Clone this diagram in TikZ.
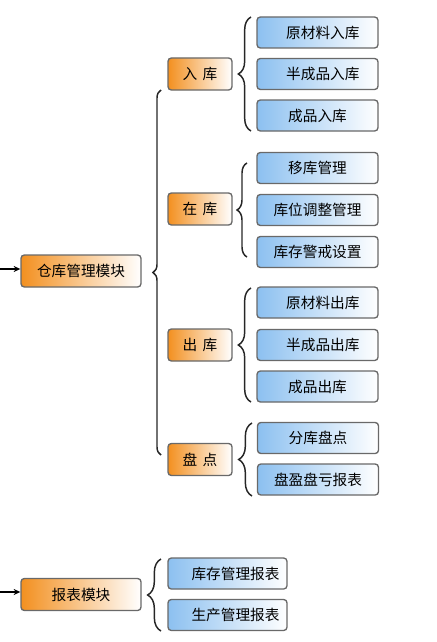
\documentclass[tikz,border=0pt]{standalone}
\usepackage{fontspec}
\setmainfont{Noto Sans CJK SC}
\usetikzlibrary{arrows.meta,decorations.pathreplacing}
\definecolor{org}{RGB}{243,144,32}
\definecolor{lblue}{RGB}{140,192,240}
\definecolor{bord}{RGB}{105,105,105}
\begin{document}
\begin{tikzpicture}[x=0.75pt,y=-0.75pt,
  boxbase/.style={draw=bord,line width=1pt,rounded corners=2.5pt,inner sep=0pt,
    font=\fontsize{11pt}{13pt}\selectfont,text=black},
  mainbox/.style={boxbase,left color=org,right color=white,minimum width=90pt,minimum height=24pt},
  midbox/.style={boxbase,left color=org,right color=white,minimum width=48pt,minimum height=24pt},
  leafbox/.style={boxbase,left color=lblue,right color=white,minimum width=90.75pt,minimum height=23.25pt},
  brc/.style={decorate,line width=1.1pt,draw=black!85},
  arr/.style={-{Stealth[length=5pt,width=4.5pt]},line width=0.9pt}]
\useasboundingbox (0,0) rectangle (436,642);

% level 1
\node[mainbox] (wh) at (81,271) {仓库管理模块};
\node[mainbox] (rep) at (81,594.5) {报表模块\hspace{12pt}};
\coordinate (whin) at (0,269);
\coordinate (repin) at (0,592);
\draw[arr] (whin) -- (wh.west |- whin);
\draw[arr] (repin) -- (rep.west |- repin);

% level 2
\node[midbox] (in) at (200,74) {入\hspace{4pt}库\hspace{6pt}};
\node[midbox] (st) at (200,209) {在\hspace{4pt}库\hspace{6pt}};
\node[midbox] (out) at (200,345) {出\hspace{4pt}库\hspace{6pt}};
\node[midbox] (chk) at (200,459.5) {盘\hspace{4pt}点\hspace{6pt}};

% leaves
\node[leafbox] (in1) at (317.5,32.5) {\hspace{8pt}原材料入库};
\node[leafbox] (in2) at (317.5,74) {\hspace{8pt}半成品入库};
\node[leafbox] (in3) at (317.5,115.5) {成品入库};
\node[leafbox] (st1) at (317.5,168) {移库管理};
\node[leafbox] (st2) at (317.5,210) {库位调整管理};
\node[leafbox] (st3) at (317.5,252) {库存警戒设置};
\node[leafbox] (out1) at (317.5,302.5) {\hspace{8pt}原材料出库};
\node[leafbox] (out2) at (317.5,345) {\hspace{8pt}半成品出库};
\node[leafbox] (out3) at (317.5,386.5) {成品出库};
\node[leafbox] (chk1) at (318,438) {分库盘点};
\node[leafbox] (chk2) at (318,479.5) {盘盈盘亏报表};
\node[leafbox,minimum width=89.25pt] (rep1) at (227.5,573.5) {\hspace{12pt}库存管理报表};
\node[leafbox,minimum width=89.25pt] (rep2) at (227.5,615) {\hspace{12pt}生产管理报表};

% braces
\coordinate (bwt) at (161,90);
\coordinate (bwb) at (161,455);
\draw[brc,decoration={brace,amplitude=6pt}] (bwb) -- (bwt);
\coordinate (bit) at (251,17);
\coordinate (bib) at (251,131);
\draw[brc,decoration={brace,amplitude=9.5pt}] (bib) -- (bit);
\coordinate (bst) at (247,163);
\coordinate (bsb) at (247,257);
\draw[brc,decoration={brace,amplitude=7.5pt}] (bsb) -- (bst);
\coordinate (bot) at (251,288);
\coordinate (bob) at (251,402);
\draw[brc,decoration={brace,amplitude=9.5pt}] (bob) -- (bot);
\coordinate (bct) at (252,423);
\coordinate (bcb) at (252,496);
\draw[brc,decoration={brace,amplitude=10pt}] (bcb) -- (bct);
\coordinate (brt) at (161,559);
\coordinate (brb) at (161,631);
\draw[brc,decoration={brace,amplitude=10pt}] (brb) -- (brt);
\end{tikzpicture}
\end{document}
